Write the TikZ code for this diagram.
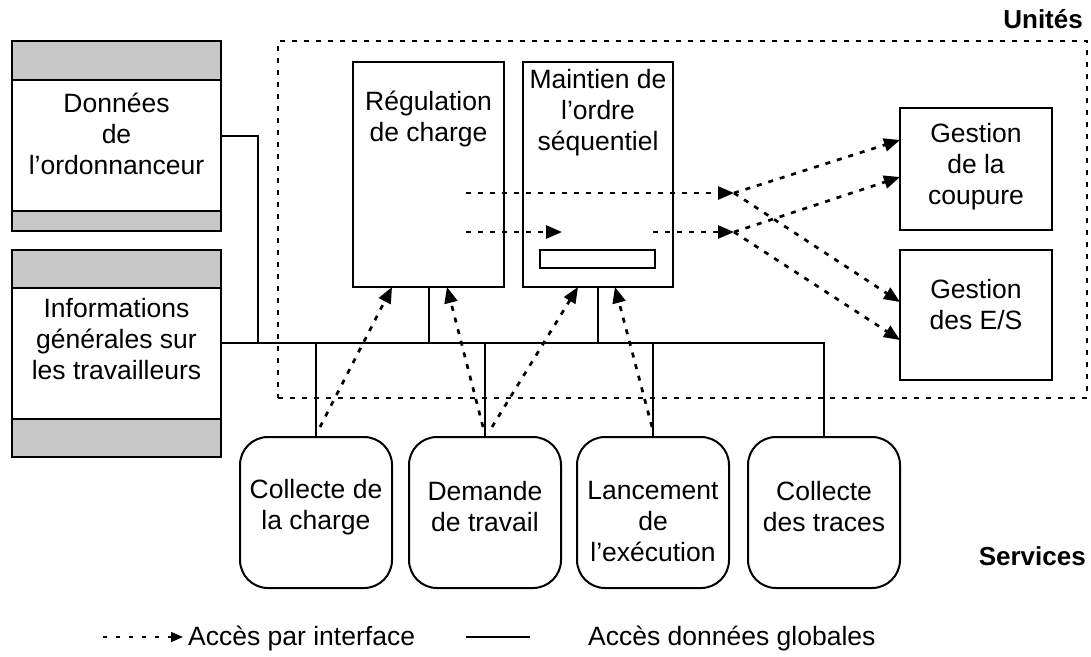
\documentclass[tikz,border=0pt]{standalone}
\usepackage{fontspec}
\setmainfont{Liberation Sans}
\usetikzlibrary{arrows.meta,calc}
\begin{document}
\begin{tikzpicture}[x=1pt,y=-1pt,
  box/.style={draw, line width=2pt, inner sep=0pt, outer sep=0pt, fill=none},
  svc/.style={box, rounded corners=28pt, minimum width=152pt, minimum height=151pt},
  txt/.style={font=\fontsize{26.5}{31}\selectfont, align=center, inner sep=0pt},
  btxt/.style={font=\fontsize{26}{31}\selectfont\bfseries, inner sep=0pt},
  glob/.style={line width=2pt},
  iface/.style={line width=2.7pt, dash pattern=on 5pt off 7pt, -{Triangle[length=16pt,width=13pt]}},
  zonestyle/.style={draw, line width=2.7pt, dash pattern=on 5pt off 7pt, inner sep=0pt, outer sep=0pt},
  band/.style={fill=black!22},
  legdot/.style={line width=1.5pt, dash pattern=on 4pt off 9pt, -{Triangle[length=12pt,width=10pt]}}
]
\useasboundingbox (0,0) rectangle (1091,656);

% shaded bands of the data boxes
\fill[band] (12,41) rectangle (221,80);
\fill[band] (12,211) rectangle (221,231);
\fill[band] (12,250) rectangle (221,288);
\fill[band] (12,419) rectangle (221,457);
\draw[glob] (12,80) -- (221,80);
\draw[glob] (12,211) -- (221,211);
\draw[glob] (12,288) -- (221,288);
\draw[glob] (12,419) -- (221,419);

% data boxes
\node[box, minimum width=209pt, minimum height=190pt] (don) at (116.5,136) {};
\node[box, minimum width=209pt, minimum height=207pt] (info) at (116.5,353.5) {};
\node[txt] (tdon) at (116.5,134) {Données\\de\\l’ordonnanceur};
\node[txt] (tinfo) at (116.5,339) {Informations\\générales sur\\les travailleurs};

% zone des unités
\node[zonestyle, minimum width=809pt, minimum height=357pt] (zone) at (682.5,219.5) {};
\node[btxt, anchor=base east] (tunites) at (1083,28) {Unités};

% unit boxes
\node[box, minimum width=151pt, minimum height=225pt] (reg) at (428.5,174.5) {};
\node[box, minimum width=150pt, minimum height=225pt] (mai) at (598,174.5) {};
\node[box, minimum width=115pt, minimum height=18pt] (buf) at (597.5,259) {};
\node[box, minimum width=152pt, minimum height=122pt] (cou) at (976,169) {};
\node[box, minimum width=152pt, minimum height=130pt] (es) at (976,315) {};
\node[txt] (treg) at (428.5,119) {Régulation\\de charge};
\node[txt] (tmai) at (598,113) {Maintien de\\l’ordre\\séquentiel};
\node[txt] (tcou) at (976,167) {Gestion\\de la\\coupure};
\node[txt] (tes) at (976,305) {Gestion\\des E/S};

% service boxes
\node[svc] (chg) at (316,512.5) {};
\node[svc] (dem) at (485,512.5) {};
\node[svc] (lan) at (653,512.5) {};
\node[svc] (trc) at (824,512.5) {};
\node[txt] (tchg) at (316,507) {Collecte de\\la charge};
\node[txt] (tdem) at (485,507) {Demande\\de travail};
\node[txt] (tlan) at (653,522) {Lancement\\de\\l’exécution};
\node[txt] (ttrc) at (824,507) {Collecte\\des traces};
\node[btxt, anchor=base east] (tserv) at (1086,565) {Services};

% global data access (solid)
\coordinate (busy) at (0,343);
\coordinate (jd) at (258,343);
\draw[glob] (don.east) -| (jd);
\draw[glob] (info.east|-busy) -| (trc.north);
\draw[glob] (reg.south) -- (reg.south|-busy);
\draw[glob] (mai.south) -- (mai.south|-busy);
\draw[glob] (chg.north) -- (chg.north|-busy);
\draw[glob] (dem.north) -- (dem.north|-busy);
\draw[glob] (lan.north) -- (lan.north|-busy);

% interface access (dotted arrows)
\coordinate (s1) at (466,193);
\coordinate (j1) at (734,193);
\coordinate (s2) at (466,232);
\coordinate (e2) at (562,232);
\coordinate (s3) at (653,232);
\coordinate (j2) at (734,232);
\draw[iface] (s1) -- (j1);
\draw[iface] (s2) -- (e2);
\draw[iface] (s3) -- (j2);
\draw[iface] (j1) -- ([yshift=29pt]cou.west);
\draw[iface] (j1) -- ([yshift=13pt]es.west);
\draw[iface] (j2) -- ([yshift=-8pt]cou.west);
\draw[iface] (j2) -- ([yshift=-25pt]es.west);
\draw[iface] ([xshift=4pt,yshift=10pt]chg.north) -- ([xshift=-36.5pt]reg.south);
\draw[iface] ([xshift=-2pt,yshift=10pt]dem.north) -- ([xshift=18.5pt]reg.south);
\draw[iface] ([xshift=7pt,yshift=10pt]dem.north) -- ([xshift=-20pt]mai.south);
\draw[iface] ([xshift=-1pt,yshift=10pt]lan.north) -- ([xshift=17pt]mai.south);

% legend
\node[txt, anchor=base west] (lg1) at (188,645) {Accès par interface};
\node[txt, anchor=base west] (lg2) at (588,645) {Accès données globales};
\coordinate (lda) at (103,637);
\draw[legdot] (lda) -- ([xshift=-5pt]lg1.west|-lda);
\coordinate (lsa) at (466,637);
\coordinate (lsb) at (530,637);
\draw[glob] (lsa) -- (lsb);
\end{tikzpicture}
\end{document}
